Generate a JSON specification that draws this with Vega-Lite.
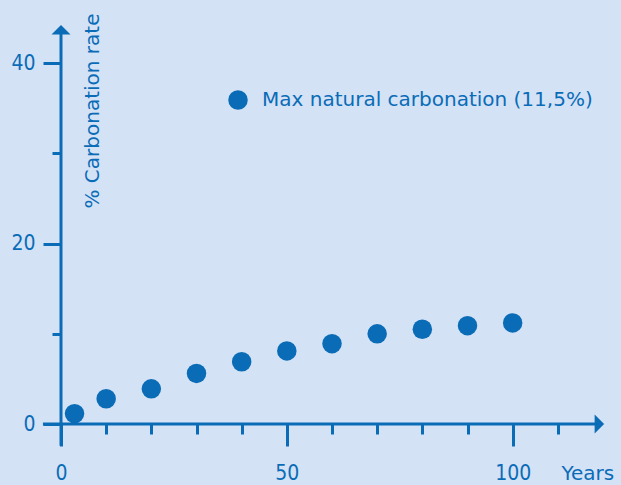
{
  "$schema": "https://vega.github.io/schema/vega-lite/v6.json",
  "width": 542,
  "height": 406,
  "autosize": "none",
  "padding": {"left": 61, "top": 18, "right": 18, "bottom": 61},
  "background": "#d4e2f6",
  "config": {"view": {"stroke": null}},
  "datasets": {
    "points": [
      {"year": 3, "rate": 1.15, "series": "Max natural carbonation (11,5%)"},
      {"year": 10, "rate": 2.8, "series": "Max natural carbonation (11,5%)"},
      {"year": 20, "rate": 3.9, "series": "Max natural carbonation (11,5%)"},
      {"year": 30, "rate": 5.6, "series": "Max natural carbonation (11,5%)"},
      {"year": 40, "rate": 6.9, "series": "Max natural carbonation (11,5%)"},
      {"year": 50, "rate": 8.1, "series": "Max natural carbonation (11,5%)"},
      {"year": 60, "rate": 8.9, "series": "Max natural carbonation (11,5%)"},
      {"year": 70, "rate": 10.0, "series": "Max natural carbonation (11,5%)"},
      {"year": 80, "rate": 10.5, "series": "Max natural carbonation (11,5%)"},
      {"year": 90, "rate": 10.9, "series": "Max natural carbonation (11,5%)"},
      {"year": 100, "rate": 11.2, "series": "Max natural carbonation (11,5%)"}
    ],
    "axislines": [
      {"year": -4, "year2": 119, "rate": 0, "rate2": 0},
      {"year": 0, "year2": 0, "rate": -2.4, "rate2": 43.5}
    ],
    "arrowup": [{"year": 0, "rate": 43.7}],
    "arrowright": [{"year": 119.2, "rate": 0}]
  },
  "layer": [
    {
      "data": {"name": "axislines"},
      "mark": {"type": "rule", "color": "#0a6cb6", "strokeWidth": 3},
      "encoding": {
        "x": {
          "field": "year", "type": "quantitative",
          "scale": {"domain": [0, 120], "nice": false, "zero": false},
          "axis": {
            "values": [0, 10, 20, 30, 40, 50, 60, 70, 80, 90, 100, 110],
            "domain": false, "grid": false,
            "tickColor": "#0a6cb6", "tickWidth": 3,
            "tickSize": {"condition": {"test": "datum.value % 50 === 0", "value": 22}, "value": 10},
            "labelExpr": "datum.value % 50 === 0 ? datum.label : ''",
            "labelFont": "DejaVu Sans Condensed", "labelFontSize": 21,
            "labelColor": "#0a6cb6", "labelPadding": 16,
            "labelFlush": false, "labelOverlap": false,
            "title": "Years", "titleX": 500, "titleY": 49,
            "titleAlign": "left", "titleBaseline": "middle",
            "titleFont": "DejaVu Sans", "titleFontSize": 20, "titleFontWeight": "normal",
            "titleColor": "#0a6cb6"
          }
        },
        "x2": {"field": "year2"},
        "y": {
          "field": "rate", "type": "quantitative",
          "scale": {"domain": [0, 45], "nice": false, "zero": false},
          "axis": {
            "values": [0, 10, 20, 30, 40],
            "domain": false, "grid": false,
            "tickColor": "#0a6cb6", "tickWidth": 3,
            "tickSize": {"condition": {"test": "datum.value % 20 === 0", "value": 18}, "value": 9},
            "labelExpr": "datum.value % 20 === 0 ? datum.label : ''",
            "labelFont": "DejaVu Sans Condensed", "labelFontSize": 21,
            "labelColor": "#0a6cb6", "labelPadding": 8,
            "labelFlush": false, "labelOverlap": false,
            "title": "% Carbonation rate", "titleAngle": 270,
            "titleX": 31, "titleY": 190,
            "titleAlign": "left", "titleBaseline": "middle",
            "titleFont": "DejaVu Sans", "titleFontSize": 20, "titleFontWeight": "normal",
            "titleColor": "#0a6cb6"
          }
        },
        "y2": {"field": "rate2"}
      }
    },
    {
      "data": {"name": "arrowup"},
      "mark": {"type": "point", "shape": "M -1 0.5 L 1 0.5 L 0 -0.5 Z", "filled": true, "size": 361, "color": "#0a6cb6", "opacity": 1},
      "encoding": {
        "x": {"field": "year", "type": "quantitative"},
        "y": {"field": "rate", "type": "quantitative"}
      }
    },
    {
      "data": {"name": "arrowright"},
      "mark": {"type": "point", "shape": "M -0.5 -1 L 0.5 0 L -0.5 1 Z", "filled": true, "size": 361, "color": "#0a6cb6", "opacity": 1},
      "encoding": {
        "x": {"field": "year", "type": "quantitative"},
        "y": {"field": "rate", "type": "quantitative"}
      }
    },
    {
      "data": {"name": "points"},
      "mark": {"type": "circle", "size": 380, "opacity": 1},
      "encoding": {
        "x": {"field": "year", "type": "quantitative"},
        "y": {"field": "rate", "type": "quantitative"},
        "color": {
          "field": "series", "type": "nominal",
          "scale": {"range": ["#0a6cb6"]},
          "legend": {
            "orient": "none", "legendX": 167, "legendY": 72,
            "title": null, "padding": 0,
            "symbolType": "circle", "symbolSize": 380, "symbolOpacity": 1,
            "symbolStrokeWidth": 0,
            "labelFont": "DejaVu Sans", "labelFontSize": 20,
            "labelColor": "#0a6cb6", "labelOffset": 14, "labelLimit": 500
          }
        }
      }
    }
  ]
}
